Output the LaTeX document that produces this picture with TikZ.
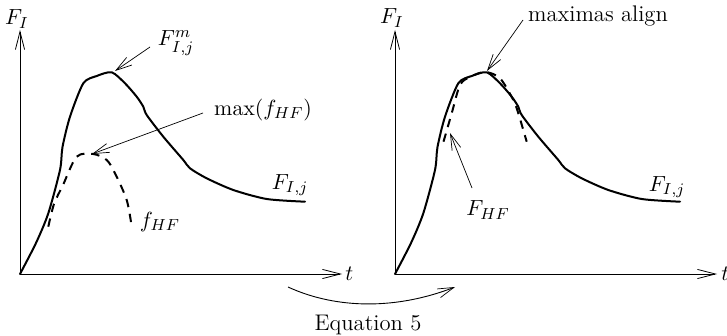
\documentclass[tikz,border=0pt]{standalone}
\usetikzlibrary{arrows.meta}
\begin{document}
\begin{tikzpicture}[x=0.5pt,y=-0.5pt,
  axis/.style={line width=0.5pt, -{Straight Barb[length=9pt,width=4.6pt,line width=0.4pt]}},
  curve/.style={line width=1pt, line join=round, line cap=round},
  hf/.style={line width=1pt, dash pattern=on 4.2pt off 3.4pt},
  lab/.style={font=\fontsize{11.3}{13.5}\selectfont, inner sep=0pt},
  pointer/.style={line width=0.35pt, -{Straight Barb[length=8pt,width=4.6pt,line width=0.35pt]}}]
\useasboundingbox (0,0) rectangle (727,336);
% ---------------- left panel
\coordinate (o1) at (20,274);
\coordinate (y1) at (20,30);
\coordinate (x1) at (342,274);
\draw[axis] (o1) -- (y1);
\draw[axis] (o1) -- (x1);
\node[lab] (FI1) at (17,19) {$F_I$};
\node[lab, anchor=west] (t1) at (345,274) {$t$};
\draw[curve] plot[smooth, tension=0.45] coordinates {(20,274) (36,243) (48.3,213.3) (60,170) (62.5,147) (70,116.7) (83.3,83.3) (96.7,76) (111.7,72.3) (125,83.3) (136.7,96.7) (143.3,106.7) (146.7,115) (163.3,136.7) (183.3,160) (190,168.3) (206.7,178.3) (233.3,190) (266.7,199) (305,201.7)};
\draw[hf] plot[smooth, tension=0.5] coordinates {(48.3,226.7) (54,204) (63,185) (76.7,156.7) (93.3,154) (106.7,160) (115,173.3) (126.7,200) (131.7,226.7)};
\node[lab] (Fm) at (176,43) {$F^m_{I,j}$};
\coordinate (Fmfrom) at (150,47);
\coordinate (pk1) at (115,71);
\draw[pointer] (Fmfrom) -- (pk1);
\node[lab] (mx) at (263,110) {$\max(f_{HF})$};
\coordinate (mxfrom) at (203,113);
\coordinate (hfpk) at (92,154);
\draw[pointer] (mxfrom) -- (hfpk);
\node[lab] (FIj1) at (290,185) {$F_{I,j}$};
\node[lab] (fhf) at (160,222) {$f_{HF}$};
% ---------------- right panel
\coordinate (o2) at (395,274);
\coordinate (y2) at (395,30);
\coordinate (x2) at (717,274);
\draw[axis] (o2) -- (y2);
\draw[axis] (o2) -- (x2);
\node[lab] (FI2) at (392,18) {$F_I$};
\node[lab, anchor=west] (t2) at (721,274) {$t$};
\begin{scope}[shift={(375,0)}]
\draw[curve] plot[smooth, tension=0.45] coordinates {(20,274) (36,243) (48.3,213.3) (60,170) (62.5,147) (70,116.7) (83.3,83.3) (96.7,76) (111.7,72.3) (125,83.3) (136.7,96.7) (143.3,106.7) (146.7,115) (163.3,136.7) (183.3,160) (190,168.3) (206.7,178.3) (233.3,190) (266.7,199) (305,201.7)};
\end{scope}
\draw[hf] plot[smooth, tension=0.5] coordinates {(443.5,141.7) (451.7,113.3) (460,85) (470,77) (485,72) (500,78.3) (513.3,100) (518.3,113.3) (526.7,141.7)};
\node[lab] (ma) at (598,16) {maximas align};
\coordinate (mafrom) at (523,20);
\coordinate (pk2) at (487,71);
\draw[pointer] (mafrom) -- (pk2);
\node[lab] (FHF) at (488,210) {$F_{HF}$};
\coordinate (FHFfrom) at (472,188);
\coordinate (hf2) at (450,133);
\draw[pointer] (FHFfrom) -- (hf2);
\node[lab] (FIj2) at (667,187) {$F_{I,j}$};
% ---------------- transformation arrow
\coordinate (eqa) at (288,287);
\coordinate (eqb) at (455,287);
\draw[pointer, line width=0.45pt] (eqa) .. controls (337,309.5) and (397,309.5) .. (eqb);
\node[lab] (eq) at (368,325) {Equation 5};
\end{tikzpicture}
\end{document}
